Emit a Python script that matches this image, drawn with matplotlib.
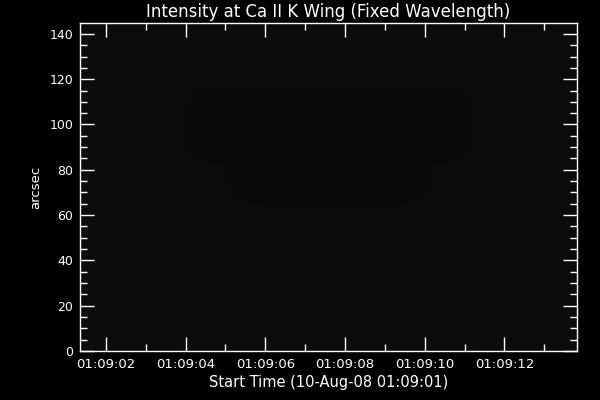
import numpy as np
import matplotlib
matplotlib.use('Agg')
import matplotlib.pyplot as plt
from matplotlib.ticker import MultipleLocator, FuncFormatter

# time span covered by the image, seconds after 01:09:00
t_start = 1.35
t_end = 13.82
# slit position range, arcsec
y_min = 0.0
y_max = 144.8

# intensity (0-255 grey levels), rows from bottom to top
intensity = np.array([
    [13, 12, 13, 12, 13, 12, 12, 13, 12, 13, 12, 12],
    [12, 12, 12, 12, 12, 12, 12, 12, 12, 12, 12, 12],
    [11, 11, 11, 11, 11, 11, 11, 11, 11, 11, 11, 11],
    [11, 11, 11, 11, 11, 11, 11, 11, 11, 11, 11, 11],
    [11, 11, 11, 11, 10, 10, 10, 10, 11, 11, 11, 11],
    [11, 11, 11, 10, 10, 10, 10, 10, 10, 11, 11, 11],
    [11, 11, 11, 11, 11, 11, 11, 11, 11, 11, 11, 11],
    [12, 12, 11, 11, 11, 11, 11, 11, 11, 11, 12, 12],
])

title = 'Intensity at Ca II K Wing (Fixed Wavelength)'
xlabel = 'Start Time (10-Aug-08 01:09:01)'
ylabel = 'arcsec'

fig = plt.figure(figsize=(6, 4), dpi=100, facecolor='black')
ax = fig.add_axes([80 / 600, 49 / 400, 497 / 600, 328 / 400], facecolor='black')

ax.imshow(intensity, cmap='gray', vmin=0, vmax=255, origin='lower',
          extent=[t_start, t_end, y_min, y_max], aspect='auto',
          interpolation='bilinear')
ax.set_xlim(t_start, t_end)
ax.set_ylim(y_min, y_max)

ax.xaxis.set_major_locator(MultipleLocator(2))
ax.xaxis.set_minor_locator(MultipleLocator(1))
ax.yaxis.set_major_locator(MultipleLocator(20))
ax.yaxis.set_minor_locator(MultipleLocator(5))
ax.xaxis.set_major_formatter(FuncFormatter(lambda v, p: '01:09:%02d' % int(round(v))))

for s in ax.spines.values():
    s.set_color('white')
    s.set_linewidth(1)

ax.tick_params(which='both', direction='in', colors='white', top=True, right=True,
               width=1)
ax.tick_params(axis='y', labelsize=9)
ax.tick_params(axis='x', labelsize=9.5)
ax.tick_params(which='major', length=10, pad=5)
ax.tick_params(which='minor', length=5)

ax.set_title(title, color='white', fontsize=12, pad=4)
ax.set_xlabel(xlabel, color='white', fontsize=10.5, labelpad=3)
ax.set_ylabel(ylabel, color='white', fontsize=9.5, labelpad=5)

fig.savefig('out.png', dpi=100, facecolor='black')
